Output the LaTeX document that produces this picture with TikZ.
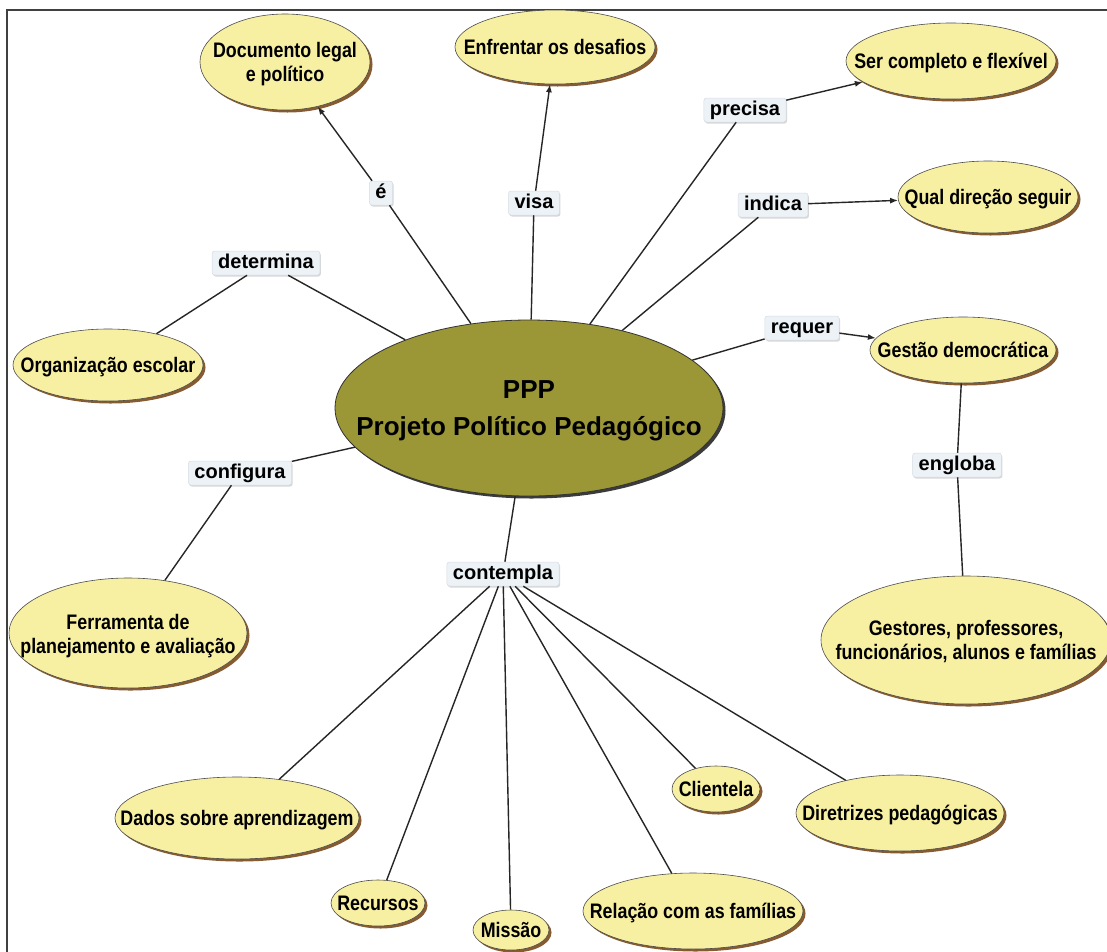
\documentclass[tikz,border=0pt]{standalone}
\usepackage{fontspec}
\usetikzlibrary{shapes.geometric,shadows,arrows.meta}
\newfontfamily\cf{Liberation Sans}[FakeStretch=0.85]
\newfontfamily\lf{Liberation Sans}
\definecolor{conceptfill}{HTML}{F7EFA2}
\definecolor{shadowbrown}{HTML}{7A4A1C}
\definecolor{olive}{HTML}{9B9636}
\definecolor{labelfill}{HTML}{EDF2F7}
\definecolor{labeldraw}{HTML}{D5DCE4}
\newcommand{\onel}[1]{\raisebox{-0.36em}[0pt][0pt]{\makebox[0pt]{#1}}}
\newcommand{\twol}[3]{\raisebox{#1}[0pt][0pt]{\makebox[0pt]{\begin{tabular}[t]{@{}c@{}}#2\\#3\end{tabular}}}}
\tikzset{
  concept/.style={ellipse, draw=black!70, line width=0.6pt, fill=conceptfill, inner sep=0pt,
    drop shadow={shadow xshift=2.5pt, shadow yshift=-2.5pt, fill=shadowbrown, opacity=0.9},
    font=\cf\bfseries\fontsize{21}{24}\selectfont},
  core/.style={ellipse, draw=black!80, line width=0.8pt, fill=olive, inner sep=0pt,
    drop shadow={shadow xshift=2.5pt, shadow yshift=-2.5pt, fill=black!85, opacity=0.9},
    font=\lf\bfseries\fontsize{26}{37}\selectfont},
  lab/.style={rectangle, rounded corners=2.5pt, fill=labelfill, draw=labeldraw, line width=0.5pt,
    inner xsep=6pt, inner ysep=3pt, text height=14pt, text depth=4pt,
    drop shadow={shadow xshift=1pt, shadow yshift=-1.5pt, fill=black!30, opacity=0.5},
    font=\lf\bfseries\fontsize{20}{22}\selectfont},
  link/.style={draw=black!85, line width=1.4pt},
  arr/.style={link, -{Latex[length=8pt,width=6pt]}}
}
\begin{document}
\begin{tikzpicture}[x=1pt,y=-1pt]
\useasboundingbox (0,0) rectangle (1107,951);
\clip (0,0) rectangle (1107,951);
\fill[white] (0,0) rectangle (1107,951);
\draw[black!75, line width=1.2pt] (7,960) -- (7,10) -- (1120,10);

% central
\node[core, minimum width=388pt, minimum height=176pt] (ppp) at (529,408)
  {\twol{9.2pt}{PPP}{Projeto Político Pedagógico}};

% concepts
\node[concept, minimum width=170pt, minimum height=96pt] (doc) at (285,62)
  {\twol{4.5pt}{Documento legal}{e político}};
\node[concept, minimum width=200pt, minimum height=74pt] (enf) at (555,47) {\onel{Enfrentar os desafios}};
\node[concept, minimum width=210pt, minimum height=76pt] (ser) at (951,61) {\onel{Ser completo e flexível}};
\node[concept, minimum width=180pt, minimum height=72pt] (qual) at (988,197) {\onel{Qual direção seguir}};
\node[concept, minimum width=186pt, minimum height=66pt] (gest) at (963,350) {\onel{Gestão democrática}};
\node[concept, minimum width=190pt, minimum height=72pt] (org) at (108,365) {\onel{Organização escolar}};
\node[concept, minimum width=238pt, minimum height=110pt] (ferr) at (128,633)
  {\twol{4pt}{Ferramenta de}{planejamento e avaliação}};
\node[concept, minimum width=290pt, minimum height=128pt] (gestores) at (966,640)
  {\twol{5pt}{Gestores, professores,}{funcionários, alunos e famílias}};
\node[concept, minimum width=244pt, minimum height=82pt] (dados) at (237,818) {\onel{Dados sobre aprendizagem}};
\node[concept, minimum width=94pt, minimum height=46pt] (rec) at (378,903) {\onel{Recursos}};
\node[concept, minimum width=76pt, minimum height=40pt] (mis) at (511,930) {\onel{Missão}};
\node[concept, minimum width=220pt, minimum height=76pt] (rel) at (693,911) {\onel{Relação com as famílias}};
\node[concept, minimum width=88pt, minimum height=46pt] (cli) at (716,789) {\onel{Clientela}};
\node[concept, minimum width=208pt, minimum height=76pt] (dir) at (900,813) {\onel{Diretrizes pedagógicas}};

% labels
\node[lab] (le) at (381,193) {é};
\node[lab] (lvisa) at (534,203) {visa};
\node[lab] (ldet) at (266,263) {determina};
\node[lab] (lprec) at (745,110) {precisa};
\node[lab] (lind) at (773,205) {indica};
\node[lab] (lreq) at (802,328) {requer};
\node[lab] (leng) at (957,465) {engloba};
\node[lab] (lconf) at (240,473) {configura};
\node[lab] (lcont) at (503,574) {contempla};

% connectors
\draw[link] (ppp) -- (le);   \draw[arr] (le) -- (doc);
\draw[link] (ppp) -- (lvisa); \draw[arr] (lvisa) -- (enf);
\draw[link] (ppp) -- (ldet); \draw[link] (ldet) -- (org);
\draw[link] (ppp) -- (lprec); \draw[arr] (lprec) -- (ser);
\draw[link] (ppp) -- (lind); \draw[arr] (lind) -- (qual);
\draw[link] (ppp) -- (lreq); \draw[arr] (lreq) -- (gest);
\draw[link] (gest) -- (leng); \draw[link] (leng) -- (gestores);
\draw[link] (ppp) -- (lconf); \draw[link] (lconf) -- (ferr);
\draw[link] (ppp) -- (lcont);
\draw[link] (lcont) -- (dados);
\draw[link] (lcont) -- (rec);
\draw[link] (lcont) -- (mis);
\draw[link] (lcont) -- (rel);
\draw[link] (lcont) -- (cli);
\draw[link] (lcont) -- (dir);
\end{tikzpicture}
\end{document}
